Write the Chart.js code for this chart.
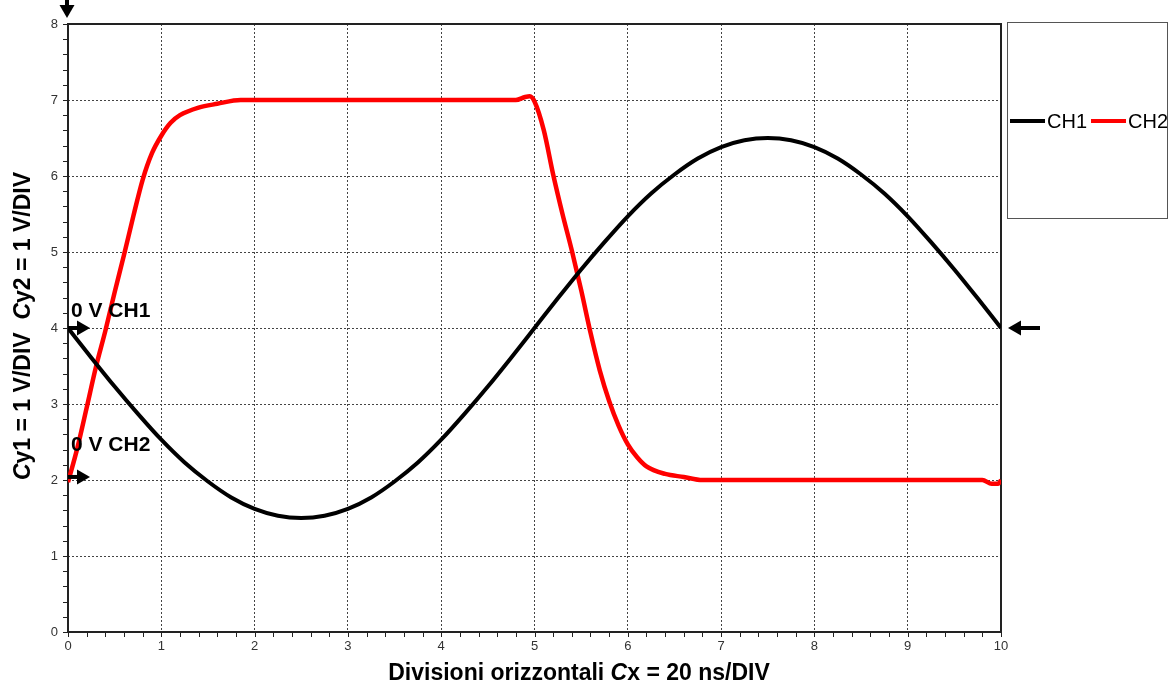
<!DOCTYPE html>
<html>
<head>
<meta charset="utf-8">
<script src="https://cdn.jsdelivr.net/npm/chart.js@4.4.1/dist/chart.umd.min.js"></script>
<style>
  html, body { margin: 0; padding: 0; background: #fff; }
  #wrap { width: 1174px; height: 686px; position: relative; }
</style>
</head>
<body>
<div id="wrap"><canvas id="scope"></canvas></div>
<script>
const FONT = "'Liberation Sans', Arial, sans-serif";

// CH1 (sinusoid)
const ch1X = [0, 0.25, 0.5, 0.75, 1, 1.25, 1.5, 1.75, 2, 2.25, 2.5, 2.75, 3, 3.25, 3.5, 3.75, 4, 4.25, 4.5, 4.75, 5,
              5.25, 5.5, 5.75, 6, 6.25, 6.5, 6.75, 7, 7.25, 7.5, 7.75, 8, 8.25, 8.5, 8.75, 9, 9.25, 9.5, 9.75, 10];
const ch1Y = [4.0, 3.61, 3.23, 2.87, 2.53, 2.23, 1.98, 1.77, 1.62, 1.53, 1.5, 1.53, 1.62, 1.77, 1.98, 2.23, 2.53, 2.87, 3.23, 3.61, 4.0,
              4.39, 4.77, 5.13, 5.47, 5.77, 6.02, 6.23, 6.38, 6.47, 6.5, 6.47, 6.38, 6.23, 6.02, 5.77, 5.47, 5.13, 4.77, 4.39, 4.0];

// CH2 (pulse)
const ch2X = [0, 0.1, 0.2, 0.3, 0.4, 0.5, 0.6, 0.7, 0.8, 0.9, 1.0, 1.1, 1.2, 1.4, 1.6, 1.85, 2.5, 3.5, 4.5, 4.8, 4.9, 4.95, 5.0,
              5.1, 5.2, 5.3, 5.4, 5.5, 5.6, 5.7, 5.8, 5.9, 6.0, 6.1, 6.2, 6.4, 6.6, 6.8, 7.5, 8.5, 9.5, 9.8, 9.9, 9.97, 10];
const ch2Y = [1.97, 2.42, 2.95, 3.49, 3.96, 4.47, 4.96, 5.47, 5.95, 6.3, 6.53, 6.7, 6.8, 6.9, 6.95, 7.0, 7.0, 7.0, 7.0, 7.0, 7.04, 7.05, 6.98,
              6.6, 6.02, 5.5, 5.02, 4.5, 3.94, 3.44, 3.04, 2.72, 2.47, 2.3, 2.18, 2.08, 2.04, 2.0, 2.0, 2.0, 2.0, 2.0, 1.95, 1.95, 2.0];

const seriesNames = ["CH1", "CH2"];
const seriesColors = ["#000000", "#ff0000"];
const xTicks = [0, 1, 2, 3, 4, 5, 6, 7, 8, 9, 10];
const yTicks = [0, 1, 2, 3, 4, 5, 6, 7, 8];

function pts(xs, ys) {
  return xs.map((x, i) => ({ x, y: ys[i] }));
}

// text made of runs, some italic
function drawRuns(ctx, runs, size) {
  let total = 0;
  runs.forEach(r => {
    ctx.font = (r.it ? "italic " : "") + "bold " + size + "px " + FONT;
    r.w = ctx.measureText(r.t).width;
    total += r.w;
  });
  let x = -total / 2;
  runs.forEach(r => {
    ctx.font = (r.it ? "italic " : "") + "bold " + size + "px " + FONT;
    ctx.fillText(r.t, x, 0);
    x += r.w;
  });
}

function arrow(ctx, x0, y0, x1, y1) {
  const ang = Math.atan2(y1 - y0, x1 - x0);
  const head = 13, half = 7.5;
  ctx.beginPath();
  ctx.moveTo(x0, y0);
  ctx.lineTo(x1 - head * Math.cos(ang), y1 - head * Math.sin(ang));
  ctx.lineWidth = 4;
  ctx.strokeStyle = "#000";
  ctx.stroke();
  ctx.beginPath();
  ctx.moveTo(x1, y1);
  ctx.lineTo(x1 - head * Math.cos(ang) + half * Math.sin(ang), y1 - head * Math.sin(ang) - half * Math.cos(ang));
  ctx.lineTo(x1 - head * Math.cos(ang) - half * Math.sin(ang), y1 - head * Math.sin(ang) + half * Math.cos(ang));
  ctx.closePath();
  ctx.fillStyle = "#000";
  ctx.fill();
}

const scopeDecor = {
  id: "scopeDecor",
  beforeDatasetsDraw(chart) {
    const { ctx, chartArea: a, scales } = chart;
    ctx.save();
    // frame
    ctx.strokeStyle = "#222";
    ctx.lineWidth = 2;
    ctx.strokeRect(a.left, a.top, a.right - a.left, a.bottom - a.top);
    // minor + major tick marks
    ctx.lineWidth = 1;
    ctx.beginPath();
    for (let v = 0; v <= 8.001; v += 0.2) {
      const y = Math.round(scales.y.getPixelForValue(v)) + 0.5;
      ctx.moveTo(a.left - 5, y);
      ctx.lineTo(a.left, y);
    }
    for (let v = 0; v <= 10.001; v += 0.2) {
      const x = Math.round(scales.x.getPixelForValue(v)) + 0.5;
      ctx.moveTo(x, a.bottom);
      ctx.lineTo(x, a.bottom + 5);
    }
    ctx.stroke();
    ctx.restore();
  },
  afterDraw(chart) {
    const { ctx, chartArea: a, scales } = chart;
    const ys = scales.y;
    ctx.save();
    ctx.fillStyle = "#000";
    ctx.textBaseline = "alphabetic";

    // axis titles
    ctx.save();
    ctx.translate(579, 680);
    drawRuns(ctx, [{ t: "Divisioni orizzontali " }, { t: "C", it: true }, { t: "x = 20 ns/DIV" }], 23);
    ctx.restore();
    ctx.save();
    ctx.translate(30, (a.top + a.bottom) / 2 - 2);
    ctx.rotate(-Math.PI / 2);
    drawRuns(ctx, [{ t: "C", it: true }, { t: "y1 = 1 V/DIV  " }, { t: "C", it: true }, { t: "y2 = 1 V/DIV" }], 23);
    ctx.restore();

    // zero-level markers
    const y4 = ys.getPixelForValue(4);
    const y2 = ys.getPixelForValue(2.04);
    arrow(ctx, a.left, y4, a.left + 22, y4);
    arrow(ctx, a.left, y2, a.left + 22, y2);
    arrow(ctx, a.right + 39, y4, a.right + 7, y4);
    arrow(ctx, a.left - 1, 0, a.left - 1, a.top - 6);
    ctx.font = "bold 21px " + FONT;
    ctx.textAlign = "left";
    ctx.fillText("0 V CH1", a.left + 3, 317);
    ctx.fillText("0 V CH2", a.left + 3, 451);

    // legend box
    ctx.strokeStyle = "#555";
    ctx.lineWidth = 1;
    ctx.strokeRect(1007.5, 22.5, 160, 196);
    ctx.font = "20px " + FONT;
    ctx.textBaseline = "middle";
    let lx = 1010;
    const ly = 121;
    chart.data.datasets.forEach(ds => {
      ctx.beginPath();
      ctx.moveTo(lx, ly);
      ctx.lineTo(lx + 35, ly);
      ctx.strokeStyle = ds.borderColor;
      ctx.lineWidth = 4;
      ctx.stroke();
      ctx.fillStyle = "#000";
      ctx.fillText(ds.label, lx + 37, ly + 1);
      lx += 37 + ctx.measureText(ds.label).width + 4;
    });
    ctx.restore();
  }
};

new Chart(document.getElementById("scope"), {
  type: "line",
  data: {
    datasets: [
      { label: seriesNames[0], data: pts(ch1X, ch1Y), borderColor: seriesColors[0], borderWidth: 4,
        pointRadius: 0, cubicInterpolationMode: "monotone", fill: false },
      { label: seriesNames[1], data: pts(ch2X, ch2Y), borderColor: seriesColors[1], borderWidth: 4.5,
        pointRadius: 0, cubicInterpolationMode: "monotone", fill: false }
    ]
  },
  options: {
    responsive: true,
    maintainAspectRatio: false,
    animation: false,
    layout: { padding: { top: 24, right: 173, left: 0, bottom: 0 } },
    plugins: { legend: { display: false }, tooltip: { enabled: false } },
    scales: {
      x: {
        type: "linear", min: 0, max: 10,
        afterBuildTicks: s => { s.ticks = xTicks.map(v => ({ value: v })); },
        afterFit: s => { s.height = 54; },
        border: { display: false, dash: [2, 2] },
        grid: { color: "#444", lineWidth: 1, drawTicks: false },
        ticks: { color: "#333", font: { family: FONT, size: 13 }, padding: 7, maxRotation: 0 }
      },
      y: {
        type: "linear", min: 0, max: 8,
        afterBuildTicks: s => { s.ticks = yTicks.map(v => ({ value: v })); },
        afterFit: s => { s.width = 68; },
        border: { display: false, dash: [2, 2] },
        grid: { color: "#444", lineWidth: 1, drawTicks: false },
        ticks: { color: "#333", font: { family: FONT, size: 13 }, padding: 10 }
      }
    }
  },
  plugins: [scopeDecor]
});
</script>
</body>
</html>
